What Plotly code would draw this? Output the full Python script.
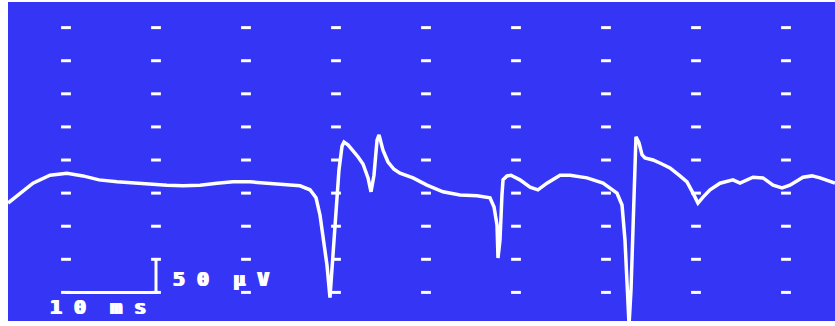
import plotly.graph_objects as go

# Evoked potential trace: time in ms, amplitude in µV
time_ms = [-6.44, -3.67, -1.78, 0.11, 1.89, 3.67, 5.67, 7.44, 9.33, 11.22, 13.0, 14.89,
           16.78, 18.56, 20.44, 22.33, 24.11, 26.0, 27.11, 27.78, 28.22, 28.56, 29.0,
           29.33, 29.67, 30.0, 30.33, 30.67, 30.89, 31.33, 31.89, 32.44, 33.0, 33.56,
           33.89, 34.22, 34.56, 34.78, 35.22, 35.78, 36.44, 37.11, 38.56, 40.11, 41.89,
           43.78, 45.67, 47.11, 47.56, 47.89, 48.0, 48.22, 48.44, 48.56, 49.0, 49.44,
           50.44, 51.56, 52.44, 53.44, 54.89, 56.0, 57.89, 59.67, 61.22, 61.78, 62.11,
           62.33, 62.56, 62.78, 63.0, 63.22, 63.33, 63.67, 64.0, 64.33, 65.22, 66.22,
           67.11, 68.22, 69.0, 69.67, 70.22, 70.78, 71.56, 72.67, 74.11, 74.89, 75.67,
           76.33, 77.44, 78.56, 79.56, 80.44, 81.89, 82.89, 83.78, 85.44]
amplitude_uv = [-65, -35, -23, -20, -24, -30, -33, -35, -36, -38, -39, -38,
                -35, -33, -33, -35, -36, -39, -45, -57, -83, -116, -159,
                -208, -140, -76, -15, 21, 27, 23, 14, 5, -6, -27,
                -48, -23, 30, 38, 15, -3, -14, -20, -27, -38, -48,
                -53, -54, -57, -71, -98, -148, -121, -53, -30, -24, -23,
                -30, -41, -45, -35, -23, -23, -27, -35, -50, -68, -121,
                -181, -249, -196, -91, 8, 35, 26, 8, 3, 0, -6,
                -12, -24, -33, -50, -65, -56, -45, -35, -30, -35, -30,
                -26, -27, -38, -42, -38, -26, -24, -27, -35]

# Screen graticule: 10 ms per division, 50 µV per division
grid_t = [0, 10, 20, 30, 40, 50, 60, 70, 80]
grid_v = [-200, -150, -100, -50, 0, 50, 100, 150, 200]

# Calibration bar
bar_t = [0, 10]
bar_v = [-200, -150]
bar_labels = ["5 0  µ V", "1 0  m s"]

SCREEN = "#3535F6"
INK = "white"

fig = go.Figure()

gx = [t for v in grid_v for t in grid_t]
gy = [v for v in grid_v for t in grid_t]
fig.add_trace(go.Scatter(
    x=gx, y=gy, mode="markers", hoverinfo="skip",
    marker=dict(symbol="line-ew", size=7, color=INK, line=dict(color=INK, width=3)),
))

fig.add_trace(go.Scatter(
    x=time_ms, y=amplitude_uv, mode="lines",
    line=dict(color=INK, width=3.5, shape="linear"),
))

fig.add_trace(go.Scatter(
    x=[bar_t[0], bar_t[1], bar_t[1]], y=[bar_v[0], bar_v[0], bar_v[1]],
    mode="lines", hoverinfo="skip",
    line=dict(color=INK, width=3),
))

# blocky, wide glyphs like a scope's character generator
wide = "1px 0 0 #fff, 2px 0 0 #fff"
label_font = dict(family="DejaVu Sans Mono", size=20, color=INK, weight="bold", shadow=wide)

fig.add_annotation(x=bar_t[1] + 1.5, y=-179, text=bar_labels[0], showarrow=False,
                   xanchor="left", yanchor="middle", font=label_font)
fig.add_annotation(x=bar_t[0] - 2.1, y=-222, text=bar_labels[1], showarrow=False,
                   xanchor="left", yanchor="middle", font=label_font)

fig.update_layout(
    width=835, height=326,
    margin=dict(l=8, r=0, t=2, b=5, autoexpand=False),
    paper_bgcolor="white", plot_bgcolor=SCREEN,
    showlegend=False,
    xaxis=dict(range=[-6.444, 85.444], visible=False, fixedrange=True),
    yaxis=dict(range=[-243.2, 238.7], visible=False, fixedrange=True),
)

fig.write_html("out.html")
